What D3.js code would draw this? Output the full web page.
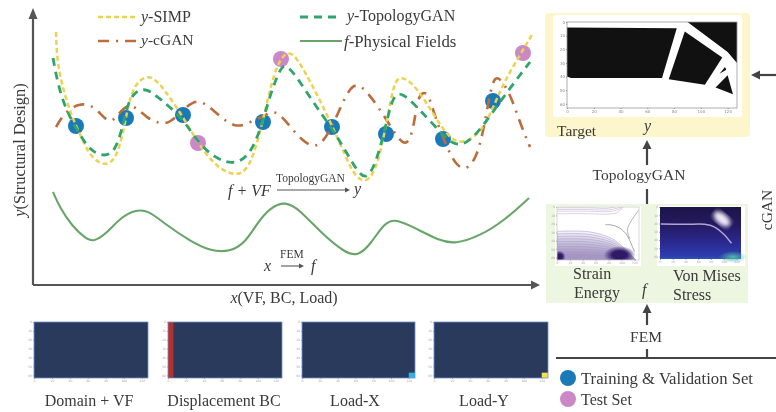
<!DOCTYPE html>
<html><head><meta charset="utf-8">
<script src="https://cdn.jsdelivr.net/npm/d3@7/dist/d3.min.js"></script>
<style>
html,body{margin:0;padding:0;background:#fff;}
svg{display:block;filter:blur(0.55px);}
text{font-family:"Liberation Serif",serif;fill:#3a3a3a;}
.i{font-style:italic;}
</style></head><body>
<svg id="c" width="776" height="412"></svg>
<script>
// ---- main plot data (schematic units along the two axes) ----
const simpX=[23,24,29,37,45,57,71,82,90,95,102,117,132,150,165,182,202,217,229,239,248,259,272,287,300,312,322,334,345,353,360,365,377,392,410,425,447,460,472,487,500];
const simpY=[253,225,200,173,155,128,119,124,150,180,202,212,195,168,142,119,108,116,160,205,229,235,213,185,157,130,108,101,120,160,197,209,205,185,155,139,150,177,205,230,252];
const topoX=[20,25,33,44,57,72,82,89,94,102,114,127,149,165,182,200,217,229,237,247,252,262,282,300,312,327,335,344,353,360,369,387,410,422,437,460,477,497];
const topoY=[227,200,175,155,134,128,134,155,180,194,197,186,168,142,127,120,129,160,190,216,221,211,180,155,135,109,107,125,160,190,193,175,150,139,142,173,197,223];
const cganX=[23,32,45,57,67,77,85,94,104,114,127,137,150,165,182,202,217,230,240,250,270,287,304,320,337,354,374,382,385,394,400,407,420,432,444,452,459,465,477,487,497];
const cganY=[158,173,181,181,172,161,170,181,177,167,161,162,175,188,173,156,163,168,175,168,142,135,168,208,190,165,131,165,190,195,175,155,123,113,127,162,204,210,192,162,138];
const physX=[20,27,39,52,60,72,87,102,115,132,157,177,197,212,225,237,252,267,287,312,325,337,352,363,382,407,422,447,472,496];
const physY=[93,77,59,47,43,50,67,75,75,61,44,34,33,42,63,77,84,75,53,32,29,40,63,66,57,44,41,49,65,87];
const trainX=[43,93,150,230,299,353,410,460];
const trainY=[159,167,170,163,158,151,146,184];
const testX=[165,248,490];
const testY=[142,226,232];
// ---- tick labels of the embedded images ----
const imgXTicks=[0,20,40,60,80,100,120];
const imgYTicks=[0,10,20,30,40,50,60];
// ---- text ----
const inputNames=["Domain + VF","Displacement BC","Load-X","Load-Y"];
// ---- target topology polygons (image units) ----
const topoShapes=[
 [[0,4],[82,4.5],[71,41],[3,41],[0,40]],
 [[88,7],[116,26],[103,46],[76,42]],
 [[90,0],[127,0],[127,30],[120,22]],
 [[120,39],[124,53],[111,48]],
 [[118,33],[114,38],[119,35]]
];
// ---- strain energy contour levels (image units) ----
const strainBandLevels=[29,32,35,38,41,44,47,50,53,56];
const strainTopLevels=[1,3,5,8];
const strainMid=[[75,21],[85,21.5],[97,25],[108,33],[115,44],[120,53]];
const strainMid2=[[127,3],[118,13],[111,22],[109,28],[113,38]];

const COL={simp:"#ecd24e",topo:"#2fa56d",cgan:"#bb6d3c",phys:"#68a568",train:"#1a7ab8",test:"#cb88c6",axis:"#555"};
const FS=16;
const svg=d3.select("#c");
const defs=svg.append("defs");
const x=d3.scaleLinear().domain([0,507]).range([33,540]);
const y=d3.scaleLinear().domain([0,275]).range([285,10]);

function arrow(g,x1,y1,x2,y2,sw,col,head,hw){
  const a=Math.atan2(y2-y1,x2-x1),c=Math.cos(a),s=Math.sin(a);
  const bx=x2-head*c,by=y2-head*s;
  g.append("line").attr("x1",x1).attr("y1",y1).attr("x2",bx).attr("y2",by).attr("stroke",col).attr("stroke-width",sw);
  g.append("path").attr("d",`M${x2},${y2}L${bx-hw*s},${by+hw*c}L${bx+hw*s},${by-hw*c}Z`).attr("fill",col);
}
function txt(t,px,py,size,anchor,cls){
  return svg.append("text").attr("x",px).attr("y",py).attr("font-size",size).attr("text-anchor",anchor||"start").attr("class",cls||"").text(t);
}
function mixed(parts,px,py,size,anchor){
  const e=svg.append("text").attr("x",px).attr("y",py).attr("font-size",size).attr("text-anchor",anchor||"start");
  parts.forEach(p=>e.append("tspan").attr("class",p[1]?"i":null).text(p[0]));
  return e;
}

// ---- panels behind everything ----
svg.append("rect").attr("x",545).attr("y",13).attr("width",205).attr("height",124).attr("rx",4).attr("fill","#fdf5cb");
svg.append("rect").attr("x",553).attr("y",15).attr("width",189).attr("height",102).attr("rx",2).attr("fill","#fff");
svg.append("rect").attr("x",546).attr("y",204).attr("width",202).attr("height",99).attr("fill","#edf6e0");
svg.append("rect").attr("x",555).attr("y",206).attr("width",86).attr("height",60).attr("fill","#fff");
svg.append("rect").attr("x",657).attr("y",206).attr("width",88).attr("height",60).attr("fill","#fff");

// ---- main axes ----
const ax=svg.append("g");
arrow(ax,33,285,33,8,2.2,COL.axis,11,4.5);
arrow(ax,33,285,540,285,2.2,COL.axis,9,4.5);

// ---- points under curves ----
function pts(xs,ys,col){
  svg.append("g").selectAll("circle").data(xs.map((d,i)=>[d,ys[i]])).join("circle")
   .attr("cx",d=>x(d[0])).attr("cy",d=>y(d[1])).attr("r",8).attr("fill",col);
}
pts(trainX,trainY,COL.train);
pts(testX,testY,COL.test);

// ---- curves ----
const line=d3.line().x(d=>x(d[0])).y(d=>y(d[1])).curve(d3.curveBasis);
function curve(xs,ys,col,sw,dash){
  svg.append("path").attr("d",line(xs.map((d,i)=>[d,ys[i]]))).attr("fill","none")
   .attr("stroke",col).attr("stroke-width",sw).attr("stroke-dasharray",dash||null);
}
curve(physX,physY,COL.phys,2.1);
curve(cganX,cganY,COL.cgan,2.6,"11 7 2 7");
curve(simpX,simpY,COL.simp,2.5,"5 3");
curve(topoX,topoY,COL.topo,2.8,"8 6");

// ---- legend ----
function leg(x1,x2,ly,col,sw,dash){
  svg.append("line").attr("x1",x1).attr("x2",x2).attr("y1",ly).attr("y2",ly).attr("stroke",col).attr("stroke-width",sw).attr("stroke-dasharray",dash||null);
}
leg(98,138,17,COL.simp,2.5,"5 3");
mixed([["y",1],["-SIMP",0]],141,22,FS);
leg(98,136,41,COL.cgan,2.6,"11 7 2 7");
mixed([["y",1],["-cGAN",0]],141,45,15.5);
leg(300,339,17,COL.topo,2.8,"8 6");
mixed([["y",1],["-TopologyGAN",0]],347,21,FS);
leg(300,342,41,COL.phys,2.1);
mixed([["f",1],["-Physical Fields",0]],344,47,16.8);

// ---- annotations ----
txt("f + VF",228,196,FS,"start","i");
txt("TopologyGAN",276,182,11.5);
arrow(svg.append("g"),277,190,350,190,1.1,"#555",5,2.5);
txt("y",354,194,FS,"start","i");
txt("x",264,271,FS,"start","i");
txt("FEM",280,258,11.5);
arrow(svg.append("g"),281,266,304,266,1.1,"#555",5,2.5);
txt("f",311,271,FS,"start","i");
mixed([["x",1],["(VF, BC, Load)",0]],284,303,FS,"middle");
mixed([["y",1],["(Structural Design)",0]],0,0,16.4,"middle").attr("transform","translate(25,150) rotate(-90)");

// ---- embedded image helper ----
function image(x0,x1,y0,y1,tickCol,frame,fs){
  const g=svg.append("g");
  const sx=d3.scaleLinear().domain([0,127]).range([x0,x1]);
  const sy=d3.scaleLinear().domain([0,63]).range([y0,y1]);
  const ax1=g.append("g").attr("transform",`translate(0,${y1})`).call(d3.axisBottom(sx).tickValues(imgXTicks).tickSize(1).tickPadding(1));
  const ax2=g.append("g").attr("transform",`translate(${x0},0)`).call(d3.axisLeft(sy).tickValues(imgYTicks).tickSize(1).tickPadding(1));
  [ax1,ax2].forEach(a=>{a.selectAll("text").attr("font-size",fs).style("font-family","'DejaVu Sans'").style("fill",tickCol);a.selectAll("line").attr("stroke",tickCol);a.select(".domain").remove();});
  g.frame=()=>g.append("rect").attr("x",x0).attr("y",y0).attr("width",x1-x0).attr("height",y1-y0).attr("fill","none").attr("stroke",frame).attr("stroke-width",0.8);
  g.sx=sx;g.sy=sy;
  return g;
}
const poly=(g,pts,fill)=>g.append("path").attr("d",d3.line().x(d=>g.sx(d[0])).y(d=>g.sy(d[1])).curve(d3.curveLinearClosed)(pts)).attr("fill",fill);

// ---- target image ----
const target=image(567,737,22,108,"#888","#999",4);
topoShapes.forEach(p=>poly(target,p,"#111"));
target.frame();

// ---- strain energy image ----
const se=image(557,639,207,260,"#aaa","#ccc",3);
defs.append("clipPath").attr("id","cp0").append("rect").attr("x",557).attr("y",207).attr("width",82).attr("height",53);
const seG=se.append("g").attr("clip-path","url(#cp0)");
const seLine=d3.line().x(d=>se.sx(d[0])).y(d=>se.sy(d[1])).curve(d3.curveCatmullRom.alpha(0.5));
strainBandLevels.forEach(l=>{
  const p=[[0,l],[50,l+0.5],[85,l+(63-l)*0.25],[105,l+(63-l)*0.6],[122,63]];
  seG.append("path").attr("d",seLine(p)+`L${se.sx(0)},${se.sy(63)}Z`).attr("fill","#5c3f94").attr("fill-opacity",0.07).attr("stroke","#a596c4").attr("stroke-width",0.5);
});
strainTopLevels.forEach(l=>{
  const p=[[0,l],[50,l],[80,l+0.5],[95,l-2],[103,-1]];
  seG.append("path").attr("d",seLine(p)).attr("fill","none").attr("stroke","#b0a4c8").attr("stroke-width",0.5);
});
seG.append("path").attr("d",seLine(strainMid)).attr("fill","none").attr("stroke","#999").attr("stroke-width",0.9);
seG.append("path").attr("d",seLine(strainMid2)).attr("fill","none").attr("stroke","#aaa").attr("stroke-width",0.9);
const gr1=defs.append("radialGradient").attr("id","dark");
gr1.append("stop").attr("offset","45%").attr("stop-color","#2f1a66");
gr1.append("stop").attr("offset","100%").attr("stop-color","#2f1a66").attr("stop-opacity",0);
seG.append("ellipse").attr("cx",se.sx(97)).attr("cy",se.sy(57)).attr("rx",16).attr("ry",9).attr("fill","url(#dark)");
seG.append("ellipse").attr("cx",se.sx(4)).attr("cy",se.sy(59)).attr("rx",6).attr("ry",6).attr("fill","url(#dark)");
se.frame();

// ---- von mises image ----
const vm=image(660,741,207,259,"#aaa","#2a1f70",3);
const grV=defs.append("linearGradient").attr("id","vmg").attr("x1",0).attr("x2",0).attr("y1",0).attr("y2",1);
[["0%","#1d1448"],["35%","#241a63"],["70%","#2b2a92"],["95%","#2c3fb0"],["100%","#2f55b0"]].forEach(s=>grV.append("stop").attr("offset",s[0]).attr("stop-color",s[1]));
vm.append("rect").attr("x",660).attr("y",207).attr("width",81).attr("height",52).attr("fill","url(#vmg)");
const grT=defs.append("radialGradient").attr("id","vmt");
grT.append("stop").attr("offset","0%").attr("stop-color","#4fb8a8");
grT.append("stop").attr("offset","100%").attr("stop-color","#4fb8a8").attr("stop-opacity",0);
vm.append("ellipse").attr("cx",733).attr("cy",257).attr("rx",14).attr("ry",6).attr("fill","url(#vmt)");
defs.append("filter").attr("id","b1").append("feGaussianBlur").attr("stdDeviation",0.7);
defs.append("filter").attr("id","b2").append("feGaussianBlur").attr("stdDeviation",2);
const vmLine=d3.line().x(d=>vm.sx(d[0])).y(d=>vm.sy(d[1])).curve(d3.curveCatmullRom.alpha(0.5));
vm.append("path").attr("d",vmLine([[1,20.5],[40,21],[70,21],[85,24],[100,33],[112,44]])).attr("fill","none").attr("stroke","#b3a3d6").attr("stroke-width",1.5).attr("filter","url(#b1)");
vm.append("ellipse").attr("cx",722).attr("cy",219).attr("rx",10).attr("ry",5.5).attr("transform","rotate(40 722 219)").attr("fill","#efe8f5").attr("filter","url(#b2)");

// ---- right side flow ----
const fl=svg.append("g");
txt("Target",557,136,15.5);
txt("y",644,131,FS,"start","i");
arrow(fl,647,165,647,140,2.2,"#444",9,4.5);
txt("TopologyGAN",639,180,15.5,"middle");
fl.append("line").attr("x1",647).attr("x2",647).attr("y1",189).attr("y2",204).attr("stroke","#444").attr("stroke-width",2.2);
txt("Strain",573,279,FS);
txt("Energy",574,298,FS);
txt("f",642,295,FS,"start","i");
txt("Von Mises",673,281,FS);
txt("Stress",673,300,FS);
arrow(fl,647,325,647,304,2.2,"#444",9,4.5);
txt("FEM",646,342,15.5,"middle");
fl.append("line").attr("x1",647).attr("x2",647).attr("y1",349).attr("y2",358).attr("stroke","#444").attr("stroke-width",2.2);
fl.append("line").attr("x1",556).attr("x2",776).attr("y1",358).attr("y2",358).attr("stroke","#444").attr("stroke-width",2.2);
arrow(fl,776,75,751,75,2.2,"#444",9,4.5);
txt("cGAN",0,0,15.5,"middle").attr("transform","translate(772,210) rotate(-90)");
fl.append("circle").attr("cx",568).attr("cy",378).attr("r",8).attr("fill",COL.train);
fl.append("circle").attr("cx",568).attr("cy",399).attr("r",8).attr("fill",COL.test);
txt("Training & Validation Set",581,384,16.7);
txt("Test Set",581,405,16);

// ---- input images ----
const inputX=[[34,148],[168,282],[302,415],[434,548]];
const inputCenter=[89,224,355,484];
const markers=[null,{a:0,b:6,c:0,d:63,f:"#b4302a"},{a:120,b:127,c:57,d:63,f:"#2cb6e8"},{a:120,b:127,c:57,d:63,f:"#f2e04e"}];
inputNames.forEach((n,i)=>{
  const g=image(inputX[i][0],inputX[i][1],322,378,"#aaa","#6f92cf",3);
  g.append("rect").attr("x",inputX[i][0]).attr("y",322).attr("width",inputX[i][1]-inputX[i][0]).attr("height",56).attr("fill","#2a3a5c");
  const m=markers[i];
  if(m) g.append("rect").attr("x",g.sx(m.a)).attr("y",g.sy(m.c)).attr("width",g.sx(m.b)-g.sx(m.a)).attr("height",g.sy(m.d)-g.sy(m.c)).attr("fill",m.f);
  g.frame();
  txt(n,inputCenter[i],406,FS,"middle");
});
</script>
</body></html>
